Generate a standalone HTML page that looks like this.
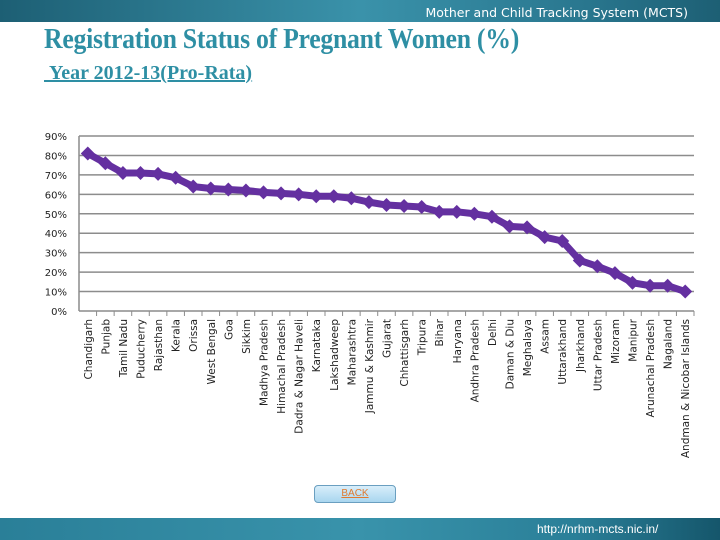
<!DOCTYPE html>
<html><head><meta charset="utf-8"><style>
body{margin:0;width:720px;height:540px;overflow:hidden;background:#fff;font-family:"Liberation Sans",sans-serif;position:relative}
.top{position:absolute;left:0;top:0;width:720px;height:22px;background:linear-gradient(90deg,#1d5f74,#3a92aa 50%,#2a7890 80%,#1d5f74)}
.top span{position:absolute;right:32px;top:5px;color:#fff;font-size:12.5px;font-family:"DejaVu Sans",sans-serif}
h1{position:absolute;left:44px;top:24px;margin:0;font-family:"Liberation Serif",serif;font-size:28px;color:#2e8fa4;font-weight:bold;letter-spacing:-0.3px;transform:scaleX(0.92);transform-origin:left top;white-space:nowrap}
.sub{position:absolute;left:44px;top:62px;font-family:"Liberation Serif",serif;font-size:20px;font-weight:bold;color:#2e8fa4;text-decoration:underline;white-space:nowrap}
.back{position:absolute;left:314px;top:485px;width:80px;height:16px;border:1px solid #6a9fc0;border-radius:4px;background:linear-gradient(#d8eefa,#a9d6ef);text-align:center;font-size:10px;line-height:16px;color:#e07a30;text-decoration:underline}
.bot{position:absolute;left:0;top:518px;width:720px;height:22px;background:linear-gradient(90deg,#2a7f98,#3993ab 50%,#2a7f98 80%,#15566b)}
.bot span{position:absolute;left:537px;top:4px;color:#fff;font-size:12px}
</style></head><body>
<div class="top"><span>Mother and Child Tracking System (MCTS)</span></div>
<h1>Registration Status of Pregnant Women (%)</h1>
<div class="sub">&nbsp;Year 2012-13(Pro-Rata)</div>
<svg id="chart" width="720" height="540" style="position:absolute;left:0;top:0"></svg>
<div class="back">BACK</div>
<div class="bot"><span>http://nrhm-mcts.nic.in/</span></div>
<script>
const categories=["Chandigarh","Punjab","Tamil Nadu","Puducherry","Rajasthan","Kerala","Orissa","West Bengal","Goa","Sikkim","Madhya Pradesh","Himachal Pradesh","Dadra & Nagar Haveli","Karnataka","Lakshadweep","Maharashtra","Jammu & Kashmir","Gujarat","Chhattisgarh","Tripura","Bihar","Haryana","Andhra Pradesh","Delhi","Daman & Diu","Meghalaya","Assam","Uttarakhand","Jharkhand","Uttar Pradesh","Mizoram","Manipur","Arunachal Pradesh","Nagaland","Andman & Nicobar Islands"];
const values=[81,76,71,71,70.5,68.5,64,63,62.5,62,61,60.5,60,59,59,58,56,54.5,54,53.5,51,51,50,48.5,43.5,43,38,36,26,23,19.5,14.5,13,13,10];
const yTicks=[0,10,20,30,40,50,60,70,80,90];
const svg=document.getElementById('chart');const NS='http://www.w3.org/2000/svg';
const L=79,R=694,T=136,B=311,maxV=90;
const step=(R-L)/categories.length;
const x=i=>L+step*(i+0.5);
const y=v=>B-(v/maxV)*(B-T);
function mk(t,a){const e=document.createElementNS(NS,t);for(const k in a)e.setAttribute(k,a[k]);svg.appendChild(e);return e;}
yTicks.forEach(t=>{
 const g=mk('line',{x1:L,x2:R,y1:y(t),y2:y(t),stroke:'#8c8c8c','stroke-width':1.5});
 
 
 const tx=mk('text',{x:L-12,y:y(t)+4,'text-anchor':'end','font-size':10,fill:'#222','font-family':'DejaVu Sans, sans-serif'});
 tx.textContent=t+'%';
 
 
});
const ax=mk('line',{x1:L,x2:L,y1:T,y2:B,stroke:'#8c8c8c','stroke-width':1.5});


categories.forEach((c,i)=>{
 const tk=mk('line',{x1:L+step*(i+1),x2:L+step*(i+1),y1:B,y2:B+5,stroke:'#8c8c8c'});
 
 
 const tx=mk('text',{transform:`translate(${x(i)+4},${B+8}) rotate(-90)`,'text-anchor':'end','font-size':10.5,fill:'#222','font-family':'DejaVu Sans, sans-serif'});
 tx.textContent=c;
 
 
});
const pl=mk('polyline',{points:values.map((v,i)=>x(i)+','+y(v)).join(' '),fill:'none',stroke:'#6430a0','stroke-width':7,'stroke-linejoin':'round'});


values.forEach((v,i)=>{
 const cx=x(i),cy=y(v),s=7;
 const p=mk('polygon',{points:`${cx},${cy-s} ${cx+s},${cy} ${cx},${cy+s} ${cx-s},${cy}`,fill:'#6430a0'});
 
 
});
</script>
</body></html>
